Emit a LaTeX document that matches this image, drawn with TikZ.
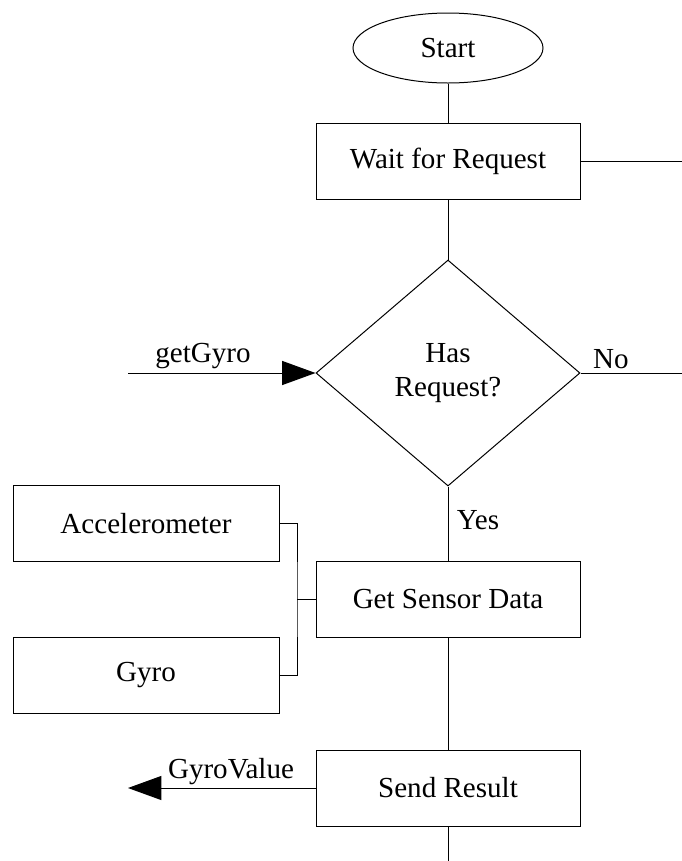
\documentclass[tikz,border=0pt]{standalone}
\usepackage{fontspec}
\setmainfont{Liberation Serif}
\usetikzlibrary{shapes.geometric,arrows.meta}
\begin{document}
\begin{tikzpicture}[x=0.75pt,y=-0.75pt,
  every node/.style={font=\fontsize{21.8}{25}\selectfont},
  box/.style={draw, line width=0.75pt, minimum width=198pt, minimum height=57pt, inner sep=0pt},
  conn/.style={line width=0.75pt},
  arr/.style={line width=0.75pt, -{Triangle[length=25pt,width=18pt]}}]
\useasboundingbox (0,0) rectangle (682,861);
% nodes
\node[draw, line width=0.75pt, ellipse, minimum width=142.5pt, minimum height=52.5pt, inner sep=0pt] (start) at (448,48) {Start};
\node[box] (wait) at (448,161) {Wait for Request};
\node[draw, line width=0.75pt, diamond, minimum width=198pt, minimum height=169.5pt, inner sep=0pt, align=center] (dec) at (448,373) {Has\\Request?};
\node[box, minimum width=199.5pt] (acc) at (146,523.5) {Accelerometer};
\node[box, minimum width=199.5pt] (gyro) at (146,675) {Gyro};
\node[box] (sensor) at (448,599.5) {Get Sensor Data};
\node[box] (send) at (448,788) {Send Result};
% labels
\node (lget) at (203,356) {getGyro};
\node (lno) at (611,359) {No};
\node (lyes) at (478,520) {Yes};
\node (lval) at (231,772) {GyroValue};
% free ends
\coordinate (waitout) at (682,161);
\coordinate (noout) at (682,373);
\coordinate (getin) at (128,373);
\coordinate (valout) at (128,788);
\coordinate (bottom) at (448,861);
\coordinate (bj) at (297,599.5);
% connectors
\draw[conn] (start) -- (wait);
\draw[conn] (wait.east) -- (waitout);
\draw[conn] (wait) -- (dec.north);
\draw[arr] (getin) -- (dec.west);
\draw[conn] (dec.east) -- (noout);
\draw[conn] (dec.south) -- (sensor);
\draw[conn] (acc.east) -| (bj) |- (gyro.east);
\draw[conn] (bj) -- (sensor.west);
\draw[conn] (sensor) -- (send);
\draw[arr] (send.west) -- (valout);
\draw[conn] (send) -- (bottom);
\end{tikzpicture}
\end{document}
